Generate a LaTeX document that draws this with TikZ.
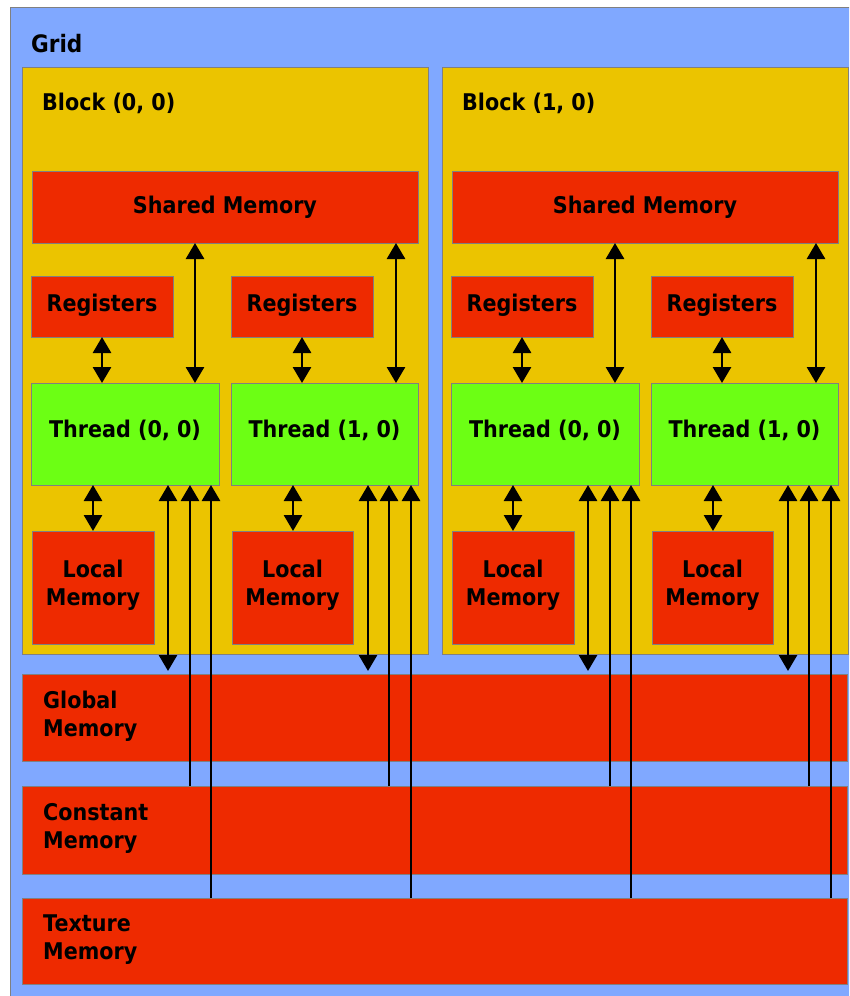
\documentclass[tikz,border=0pt]{standalone}
\usepackage{fontspec}
\setmainfont{DejaVu Sans}[FakeStretch=0.9]
\usetikzlibrary{arrows.meta}
\definecolor{gridblue}{RGB}{128,168,255}
\definecolor{blockgold}{RGB}{235,196,0}
\definecolor{memred}{RGB}{238,42,0}
\definecolor{threadgreen}{RGB}{108,255,20}
\definecolor{edgegray}{RGB}{128,128,128}

\begin{document}
\begin{tikzpicture}[x=1pt,y=-1pt,
  font=\bfseries\fontsize{23}{28}\selectfont,
  box/.style={draw=edgegray, line width=0.8pt, inner sep=0pt, outer sep=0pt,
    anchor=north west, align=center},
  gridbox/.style={box, fill=gridblue},
  blockbox/.style={box, fill=blockgold},
  membox/.style={box, fill=memred},
  threadbox/.style={box, fill=threadgreen},
  caption/.style={inner sep=0pt, anchor=base west},
  memcaption/.style={inner sep=0pt, anchor=west, align=left},
  both/.style={line width=2.8pt, {Triangle[width=18pt,length=16pt]}-{Triangle[width=18pt,length=16pt]}},
  toward/.style={line width=2.8pt, -{Triangle[width=18pt,length=16pt]}},
]
\useasboundingbox (0,0) rectangle (849,996);
\clip (0,0) rectangle (849,996);
\fill[white] (0,0) rectangle (849,996);

% the grid
\node[gridbox, minimum width=870pt, minimum height=1020pt] (grid) at (10.5,7.5) {};
\node[caption, font=\bfseries\fontsize{24}{28}\selectfont] (gridlabel) at (31,52) {Grid};

% device memories shared by all blocks
\node[membox, minimum width=825.5pt, minimum height=87pt] (gm) at (22,674) {};
\node[membox, minimum width=825.5pt, minimum height=88pt] (cm) at (22,786) {};
\node[membox, minimum width=825.5pt, minimum height=86pt] (tm) at (22,898) {};
\node[memcaption] (gmlabel) at (43,716) {Global\\Memory};
\node[memcaption] (cmlabel) at (43,828.5) {Constant\\Memory};
\node[memcaption] (tmlabel) at (43,940) {Texture\\Memory};

% two blocks, each with shared memory and two threads
\foreach \b/\off in {0/0,1/420} {
\begin{scope}[xshift=\off pt]
  \node[blockbox, minimum width=406pt, minimum height=587pt] (blk\b) at (22,67) {};
  \node[caption] (blklabel\b) at (42,110) {Block (\b, 0)};

  \node[membox, minimum width=386pt, minimum height=72pt] (sh\b) at (32,171) {Shared Memory};

  \node[membox, minimum width=142pt, minimum height=61pt] (rgA\b) at (31,276) {Registers\rule[-8pt]{0pt}{0pt}};
  \node[membox, minimum width=142pt, minimum height=61pt] (rgB\b) at (231,276) {Registers\rule[-8pt]{0pt}{0pt}};

  \node[threadbox, minimum width=188pt, minimum height=102pt] (thA\b) at (31,383) {Thread (0, 0)\rule[-10pt]{0pt}{0pt}};
  \node[threadbox, minimum width=187pt, minimum height=102pt] (thB\b) at (231,383) {Thread (1, 0)\rule[-10pt]{0pt}{0pt}};

  \node[membox, minimum width=122pt, minimum height=113pt] (lmA\b) at (32,531) {Local\\Memory\rule[-10pt]{0pt}{0pt}};
  \node[membox, minimum width=121pt, minimum height=113pt] (lmB\b) at (232,531) {Local\\Memory\rule[-10pt]{0pt}{0pt}};

  % columns of the connectors
  \coordinate (xsA\b) at (195,0);   \coordinate (xsB\b) at (396,0);
  \coordinate (xrA\b) at (102,0);   \coordinate (xrB\b) at (302,0);
  \coordinate (xlA\b) at (93,0);    \coordinate (xlB\b) at (293,0);
  \coordinate (xgA\b) at (168,0);   \coordinate (xgB\b) at (368,0);
  \coordinate (xcA\b) at (190,0);   \coordinate (xcB\b) at (389,0);
  \coordinate (xtA\b) at (211,0);   \coordinate (xtB\b) at (411,0);
\end{scope}

  \foreach \t in {A,B} {
    \draw[both] (xs\t\b |- sh\b.south) -- (xs\t\b |- th\t\b.north);
    \draw[both] (xr\t\b |- rg\t\b.south) -- (xr\t\b |- th\t\b.north);
    \draw[both] (xl\t\b |- th\t\b.south) -- (xl\t\b |- lm\t\b.north);
    \draw[both, shorten >=3pt] (xg\t\b |- th\t\b.south) -- (xg\t\b |- gm.north);
    \draw[toward] (xc\t\b |- cm.north) -- (xc\t\b |- th\t\b.south);
    \draw[toward] (xt\t\b |- tm.north) -- (xt\t\b |- th\t\b.south);
  }
}
\end{tikzpicture}
\end{document}
